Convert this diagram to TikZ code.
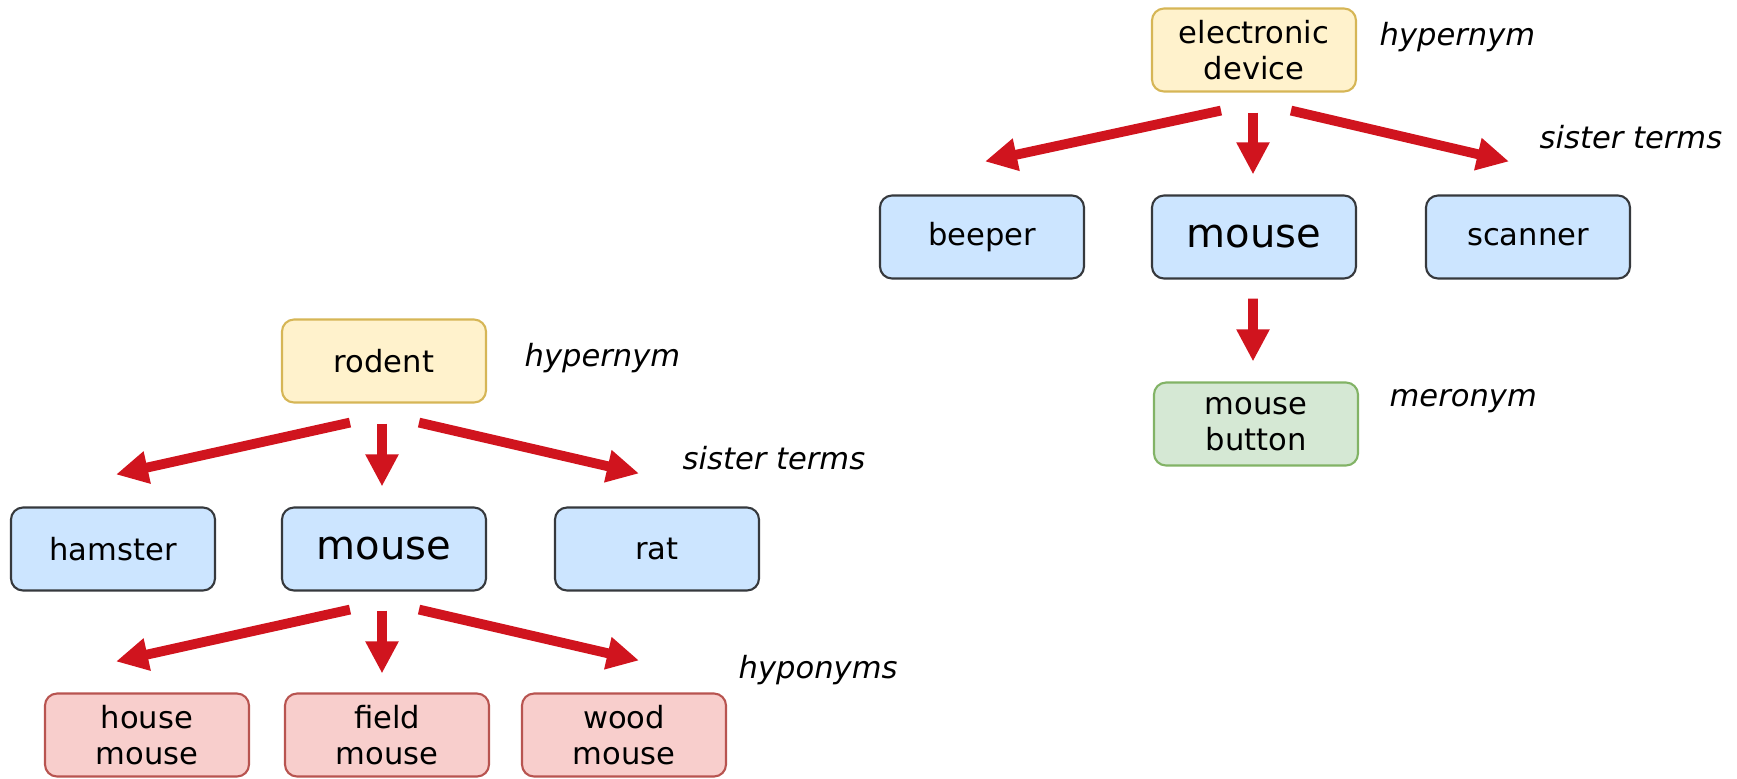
\documentclass[tikz,border=0pt]{standalone}
\usepackage{fontspec}
\setmainfont{DejaVu Sans}
\usetikzlibrary{arrows.meta}
\definecolor{hypfill}{HTML}{FFF2CC}
\definecolor{hypline}{HTML}{D6B656}
\definecolor{sisfill}{HTML}{CCE5FF}
\definecolor{sisline}{HTML}{36393D}
\definecolor{hypofill}{HTML}{F8CECC}
\definecolor{hypoline}{HTML}{B85450}
\definecolor{merfill}{HTML}{D5E8D4}
\definecolor{merline}{HTML}{82B366}
\definecolor{arrred}{HTML}{D0141E}
\begin{document}
\begin{tikzpicture}[
  box/.style={draw, line width=0.6pt, rounded corners=0.12cm, minimum width=2.04cm,
    minimum height=0.83cm, align=center, inner sep=0pt,
    font=\fontsize{8.7}{10.2}\selectfont},
  hyper/.style={box, fill=hypfill, draw=hypline},
  sister/.style={box, fill=sisfill, draw=sisline},
  hypo/.style={box, fill=hypofill, draw=hypoline},
  mero/.style={box, fill=merfill, draw=merline},
  big/.style={font=\fontsize{11.4}{13}\selectfont},
  lbl/.style={anchor=west, inner sep=0pt, font=\fontsize{8.7}{10.2}\selectfont\itshape},
  arr/.style={draw=arrred, line width=2.8pt, -{Triangle[length=0.32cm,width=0.31cm]}}
]
\useasboundingbox (0,0) rectangle (17.37,-7.78);
% left tree: rodent
\node[hyper] (rodent) at (3.84,-3.61) {rodent};
\node[sister] (hamster) at (1.13,-5.49) {hamster};
\node[sister,big] (mouseA) at (3.84,-5.49) {mouse};
\node[sister] (rat) at (6.57,-5.49) {rat};
\node[hypo] (house) at (1.47,-7.35) {house\\mouse};
\node[hypo] (field) at (3.87,-7.35) {field\\mouse};
\node[hypo] (wood) at (6.24,-7.35) {wood\\mouse};
\node[lbl] (hyperA) at (5.24,-3.58) {hypernym};
\node[lbl] (sisterA) at (6.82,-4.58) {sister terms};
\node[lbl] (hypoA) at (7.38,-6.70) {hyponyms};
\draw[arr] ([shift={(-0.34,-0.19)}]rodent.south) -- ([shift={(0.03,0.32)}]hamster.north);
\draw[arr] ([shift={(-0.02,-0.2)}]rodent.south) -- ([shift={(-0.02,0.2)}]mouseA.north);
\draw[arr] ([shift={(0.35,-0.19)}]rodent.south) -- ([shift={(-0.18,0.33)}]rat.north);
\draw[arr] ([shift={(-0.34,-0.18)}]mouseA.south) -- ([shift={(-0.31,0.31)}]house.north);
\draw[arr] ([shift={(-0.02,-0.19)}]mouseA.south) -- ([shift={(-0.05,0.19)}]field.north);
\draw[arr] ([shift={(0.35,-0.18)}]mouseA.south) -- ([shift={(0.15,0.32)}]wood.north);
% right tree: electronic device
\node[hyper] (edev) at (12.54,-0.50) {electronic\\device};
\node[sister] (beeper) at (9.82,-2.37) {beeper};
\node[sister,big] (mouseB) at (12.54,-2.37) {mouse};
\node[sister] (scanner) at (15.28,-2.37) {scanner};
\node[mero] (button) at (12.56,-4.24) {mouse\\button};
\node[lbl] (hyperB) at (13.79,-0.37) {hypernym};
\node[lbl] (sisterB) at (15.39,-1.37) {sister terms};
\node[lbl] (meroB) at (13.89,-4.01) {meronym};
\draw[arr] ([shift={(-0.33,-0.18)}]edev.south) -- ([shift={(0.03,0.33)}]beeper.north);
\draw[arr] ([shift={(-0.01,-0.2)}]edev.south) -- ([shift={(-0.01,0.2)}]mouseB.north);
\draw[arr] ([shift={(0.37,-0.18)}]edev.south) -- ([shift={(-0.19,0.33)}]scanner.north);
\draw[arr] ([shift={(-0.01,-0.19)}]mouseB.south) -- ([shift={(-0.03,0.2)}]button.north);
\end{tikzpicture}
\end{document}
